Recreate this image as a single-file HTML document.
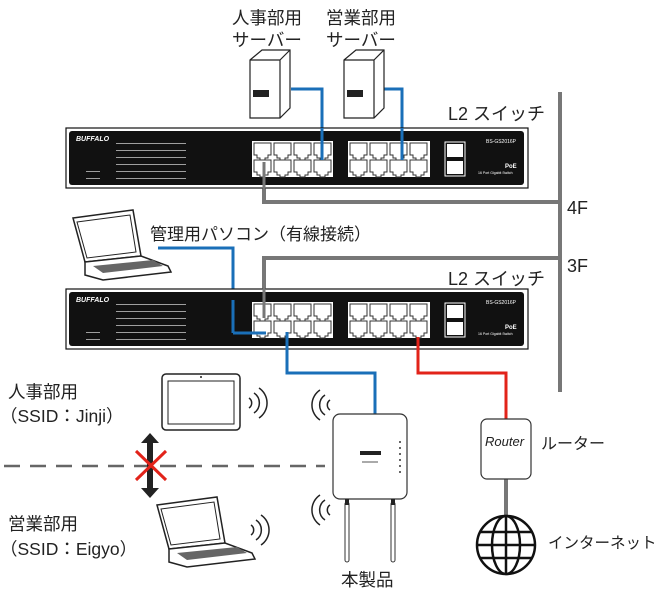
<!DOCTYPE html>
<html><head><meta charset="utf-8"><style>
body{margin:0;background:#fff}
svg{display:block;font-family:"Liberation Sans","Noto Sans CJK JP",sans-serif}
</style></head><body>
<svg width="663" height="594" viewBox="0 0 663 594" xmlns="http://www.w3.org/2000/svg">
<defs>
<g id="port"><path d="M0 0h17v12h-3v3h-3v2h-5v-2h-3v-3h-3z" fill="none" stroke="#333" stroke-width="1"/></g>
<g id="sw">
  <rect x="0" y="0" width="462" height="60" fill="#fff" stroke="#111" stroke-width="1.2"/>
  <rect x="3" y="3" width="455" height="54" rx="3" fill="#111"/>
  <rect x="186" y="13" width="81" height="36" fill="#fff"/>
  <rect x="282" y="13" width="82" height="36" fill="#fff"/>
  <rect x="379" y="14" width="20" height="34" fill="#111" stroke="#fff" stroke-width="1"/>
  <rect x="381" y="16" width="16" height="13" fill="#fff"/><rect x="381" y="33" width="16" height="13" fill="#fff"/>
  <g transform="translate(188,15)"><use href="#port"/><use href="#port" x="20"/><use href="#port" x="40"/><use href="#port" x="60"/>
  <use href="#port" y="17"/><use href="#port" x="20" y="17"/><use href="#port" x="40" y="17"/><use href="#port" x="60" y="17"/></g>
  <g transform="translate(284,15)"><use href="#port"/><use href="#port" x="20"/><use href="#port" x="40"/><use href="#port" x="60"/>
  <use href="#port" y="17"/><use href="#port" x="20" y="17"/><use href="#port" x="40" y="17"/><use href="#port" x="60" y="17"/></g>
  <text x="10" y="13" font-size="7" font-style="italic" font-weight="bold" fill="#fff">BUFFALO</text>
  <g fill="#fff"><rect x="50" y="15" width="70" height="1" opacity=".6"/><rect x="50" y="22" width="70" height="1" opacity=".6"/><rect x="50" y="29" width="70" height="1" opacity=".6"/>
  <rect x="50" y="36" width="70" height="1" opacity=".6"/><rect x="50" y="43" width="70" height="1" opacity=".6"/><rect x="20" y="43" width="14" height="1" opacity=".6"/><rect x="20" y="50" width="14" height="1" opacity=".6"/><rect x="50" y="50" width="70" height="1" opacity=".6"/></g>
  <text x="420" y="15" font-size="5" fill="#fff">BS-GS2016P</text>
  <text x="439" y="40" font-size="6" font-weight="bold" fill="#fff">PoE</text>
  <text x="412" y="46" font-size="3.5" fill="#fff">16 Port Gigabit Switch</text>
</g>
<g id="srv"><path d="M0 10L12 0h28v58l-10 10H0z" fill="#fff" stroke="#222" stroke-width="1.2"/><path d="M0 10h30v58M30 10L40 0" fill="none" stroke="#222" stroke-width="1.2"/><rect x="3" y="40" width="16" height="7" fill="#222"/></g>
<g id="lap"><path d="M0 0L60 -8 68 38 12 44z" fill="#fff" stroke="#222" stroke-width="1.5"/><path d="M4 4L57 -3 63 34 14 40z" fill="none" stroke="#222"/><path d="M12 44L68 38 95 48 98 54 30 62 12 57z" fill="#fff" stroke="#222" stroke-width="1.5"/><path d="M20 48l60-6 10 6-60 7z" fill="#666"/></g>
<g id="wave" fill="none" stroke="#222" stroke-width="1.5"><path d="M0 -5a6 6 0 0 1 0 10"/><path d="M5 -10a12 12 0 0 1 0 20"/><path d="M10 -15a18 18 0 0 1 0 30"/></g>
</defs>

<g stroke="#777" stroke-width="4" fill="none">
<line x1="560" y1="92" x2="560" y2="392"/>
<path d="M264 162V202H560"/>
<path d="M264 318V258H560"/>
<line x1="506" y1="479" x2="506" y2="516"/>
</g>
<g stroke="#1a6fb8" stroke-width="3" fill="none">
<path d="M291 89H322V160"/>
<path d="M382 89H402V160"/>
<path d="M158 248H233V333H266"/>
<path d="M287 332V373H375V414"/>
</g>
<path d="M418 337V373H506V419" stroke="#e2231a" stroke-width="3" fill="none"/>

<use href="#sw" x="66" y="128"/>
<use href="#sw" x="66" y="289"/>
<g stroke="#1a6fb8" stroke-width="3"><line x1="322" y1="128" x2="322" y2="160"/><line x1="402" y1="128" x2="402" y2="160"/><line x1="233" y1="300" x2="233" y2="333"/><line x1="233" y1="333" x2="266" y2="333"/><line x1="287" y1="332" x2="287" y2="350"/></g>
<g stroke="#777" stroke-width="3"><line x1="264" y1="162" x2="264" y2="190"/><line x1="264" y1="288" x2="264" y2="318"/></g>
<line x1="418" y1="337" x2="418" y2="350" stroke="#e2231a" stroke-width="3"/>

<use href="#srv" x="250" y="50"/>
<use href="#srv" x="344" y="50"/>

<g font-size="17.5" fill="#222">
<text x="232" y="24">人事部用</text><text x="232" y="46">サーバー</text>
<text x="326" y="24">営業部用</text><text x="326" y="46">サーバー</text>
<text x="448" y="120" font-size="18">L2 スイッチ</text>
<text x="448" y="285" font-size="18">L2 スイッチ</text>
<text x="567" y="214" font-size="18">4F</text>
<text x="567" y="272" font-size="18">3F</text>
<text x="150" y="240" font-size="17">管理用パソコン（有線接続）</text>
<text x="8" y="398">人事部用</text><text x="0" y="422">（SSID：Jinji）</text>
<text x="8" y="530">営業部用</text><text x="0" y="555">（SSID：Eigyo）</text>
<text x="541" y="449" font-size="16">ルーター</text>
<text x="548" y="548" font-size="15.5">インターネット</text>
<text x="341" y="586">本製品</text>
</g>

<use href="#lap" x="73" y="218"/>
<use href="#lap" x="157" y="505"/>
<rect x="162" y="374" width="78" height="56" rx="4" fill="#fff" stroke="#222" stroke-width="1.5"/>
<rect x="168" y="381" width="66" height="43" fill="none" stroke="#222"/>
<circle cx="201" cy="377" r="1" fill="#222"/>
<use href="#wave" x="249" y="403"/>
<use href="#wave" x="251" y="530"/>
<use href="#wave" transform="translate(330,405) scale(-1,1)"/>
<use href="#wave" transform="translate(330,510) scale(-1,1)"/>

<line x1="4" y1="466" x2="325" y2="466" stroke="#666" stroke-width="2.5" stroke-dasharray="16,10"/>
<path d="M150 433l-9 10h6v45h-6l9 10 9-10h-6v-45h6z" fill="#222"/>
<g stroke="#e2231a" stroke-width="3"><line x1="136" y1="451" x2="166" y2="480"/><line x1="166" y1="451" x2="136" y2="480"/></g>

<rect x="333" y="414" width="74" height="85" rx="7" fill="#fff" stroke="#333" stroke-width="1.2"/>
<rect x="360" y="451" width="21" height="4" fill="#222"/>
<line x1="362" y1="462" x2="378" y2="462" stroke="#555"/>
<g fill="#666"><rect x="399" y="441" width="2" height="2"/><rect x="399" y="447" width="2" height="2"/><rect x="399" y="453" width="2" height="2"/><rect x="399" y="459" width="2" height="2"/><rect x="399" y="465" width="2" height="2"/><rect x="399" y="471" width="2" height="2"/></g>
<g fill="#fff" stroke="#333"><rect x="345" y="502" width="4" height="60" rx="2"/><rect x="391" y="502" width="4" height="60" rx="2"/></g>
<rect x="345" y="499" width="4" height="6" fill="#222"/><rect x="391" y="499" width="4" height="6" fill="#222"/>

<rect x="481" y="419" width="50" height="60" rx="6" fill="#fff" stroke="#333" stroke-width="1.2"/>
<text x="485" y="446" font-size="13" font-style="italic" fill="#222">Router</text>
<g fill="none" stroke="#111" stroke-width="2.5">
<circle cx="506" cy="545" r="29"/>
<ellipse cx="506" cy="545" rx="14" ry="29"/>
<line x1="506" y1="516" x2="506" y2="574"/>
<path d="M480 532h52M477 545h58M480 558h52"/>
</g>
</svg>
</body></html>
